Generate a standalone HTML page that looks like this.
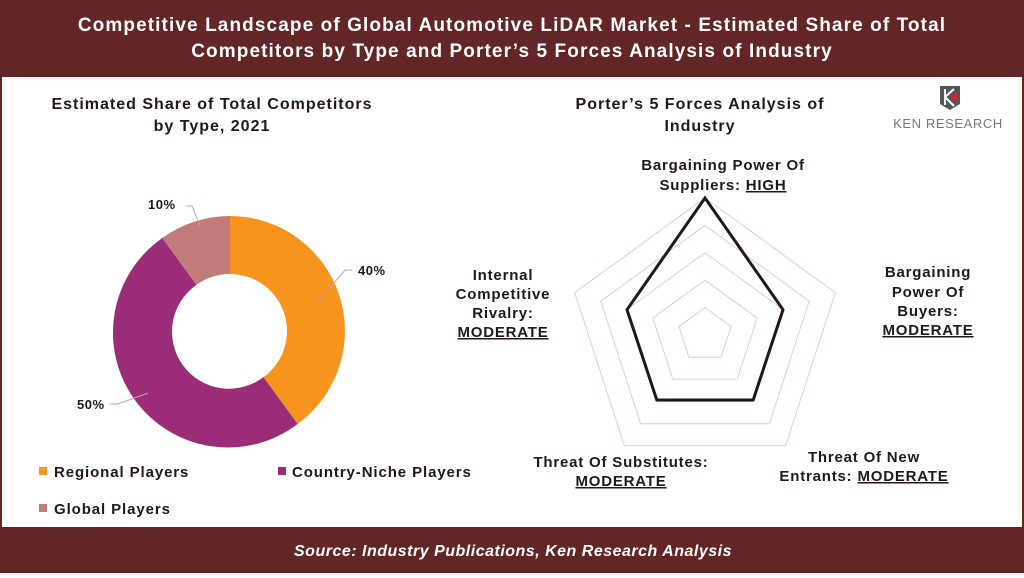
<!DOCTYPE html>
<html><head><meta charset="utf-8"><style>
body{margin:0;width:1024px;height:573px;overflow:hidden;background:#fff;font-family:"Liberation Sans",Arial,sans-serif}
</style></head><body>
<svg width="1024" height="573" viewBox="0 0 1024 573" xmlns="http://www.w3.org/2000/svg" font-family="Liberation Sans, Arial, sans-serif" font-weight="bold">
<rect x="0" y="0" width="1024" height="573" fill="#632626"/>
<rect x="2" y="77" width="1020" height="450" fill="#fff"/>
<g fill="#fff" font-size="19" text-anchor="middle" letter-spacing="1.1">
<text x="512" y="31">Competitive Landscape of Global Automotive LiDAR Market - Estimated  Share of Total</text>
<text x="512" y="57">Competitors by Type and Porter’s 5 Forces Analysis of Industry</text>
</g>
<text x="513" y="556" fill="#fff" font-size="16" font-style="italic" text-anchor="middle" letter-spacing="0.5">Source: Industry Publications, Ken Research Analysis</text>

<g fill="#231818" font-size="16" text-anchor="middle" letter-spacing="1">
<text x="212" y="109">Estimated Share of Total Competitors</text>
<text x="212" y="131">by Type, 2021</text>
<text x="700" y="109">Porter’s 5 Forces Analysis of</text>
<text x="700" y="131">Industry</text>
</g>

<!-- logo -->
<g>
<path d="M940 86 h20 v18 l-10 6 l-10 -6 z" fill="#555"/>
<path d="M945 89 v16 M945 97 l9 -8 M945 97 l9 9" stroke="#fff" stroke-width="2" fill="none"/>
<path d="M950 97 l7 -5 v9 z" fill="#d22"/>
<text x="948" y="128" font-size="13" font-weight="normal" fill="#777" text-anchor="middle" letter-spacing="0.6">KEN RESEARCH</text>
</g>

<!-- donut -->
<path d="M230,216 A115,115 0 0 1 297.6,424 L263.5,377.1 A57,57 0 0 0 230,274 Z" fill="#f7941d"/>
<path d="M297.6,424 A115,115 0 1 1 162.4,238 L196.5,284.9 A57,57 0 1 0 263.5,377.1 Z" fill="#9b2c78"/>
<path d="M162.4,238 A115,115 0 0 1 230,216 L230,274 A57,57 0 0 0 196.5,284.9 Z" fill="#c27b7b"/>
<g stroke="#c9a0a0" stroke-width="1" fill="none">
<polyline points="315,305 345,270 352,270"/>
<polyline points="148,393 118,404 110,404"/>
<polyline points="200,226 192,206 186,206"/>
</g>
<g fill="#231818" font-size="13" letter-spacing="0.5">
<text x="358" y="275">40%</text>
<text x="77" y="409">50%</text>
<text x="148" y="209">10%</text>
</g>
<g font-size="15" fill="#231818" letter-spacing="0.9">
<rect x="39" y="467" width="8" height="8" fill="#f7941d"/>
<text x="54" y="477">Regional Players</text>
<rect x="278" y="467" width="8" height="8" fill="#9b2c78"/>
<text x="292" y="477">Country-Niche Players</text>
<rect x="39" y="504" width="8" height="8" fill="#c27b7b"/>
<text x="54" y="514">Global Players</text>
</g>

<!-- radar -->
<g fill="none" stroke="#ecc9c6" stroke-width="1">
<polygon points="705,307.6 731.1,326.5 721.1,357.2 688.9,357.2 678.9,326.5"/>
<polygon points="705,280.2 757.1,318.1 737.2,379.3 672.8,379.3 652.9,318.1"/>
<polygon points="705,252.8 783.2,309.6 753.3,401.5 656.7,401.5 626.8,309.6"/>
<polygon points="705,225.4 809.2,301.1 769.4,423.7 640.6,423.7 600.8,301.1"/>
<polygon points="705,198 835.3,292.7 785.6,445.8 624.4,445.8 574.7,292.7"/>
</g>
<polygon points="705,198 783,309.7 753.2,400 656.8,400 627,309.7" fill="none" stroke="#231818" stroke-width="3" stroke-linejoin="miter"/>

<g fill="#231818" font-size="15" text-anchor="middle" letter-spacing="0.8">
<text x="723" y="170">Bargaining Power Of</text>
<text x="723" y="190">Suppliers: <tspan text-decoration="underline">HIGH</tspan></text>
<text x="928" y="277">Bargaining</text>
<text x="928" y="297">Power Of</text>
<text x="928" y="316">Buyers:</text>
<text x="928" y="335" text-decoration="underline">MODERATE</text>
<text x="503" y="280">Internal</text>
<text x="503" y="299">Competitive</text>
<text x="503" y="318">Rivalry:</text>
<text x="503" y="337" text-decoration="underline">MODERATE</text>
<text x="621" y="467">Threat Of Substitutes:</text>
<text x="621" y="486" text-decoration="underline">MODERATE</text>
<text x="864" y="462">Threat Of New</text>
<text x="864" y="481">Entrants: <tspan text-decoration="underline">MODERATE</tspan></text>
</g>
</svg>
</body></html>
